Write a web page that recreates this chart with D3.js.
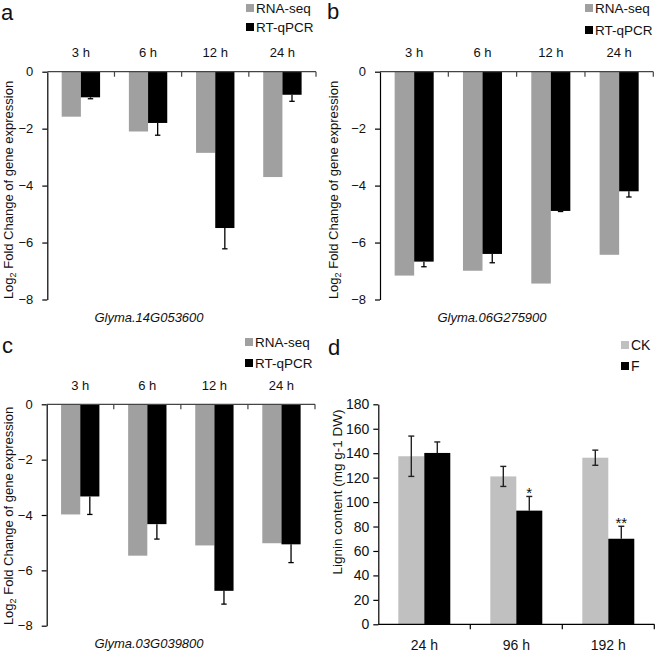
<!DOCTYPE html>
<html><head><meta charset="utf-8">
<script src="https://cdn.jsdelivr.net/npm/d3@7"></script>
<style>body{margin:0;background:#fff}svg{display:block;font-family:"Liberation Sans",Arial,sans-serif}</style>
</head><body>
<svg id="chart" width="655" height="653"></svg>
<script>
const categories = ["3 h", "6 h", "12 h", "24 h"];
const seriesNames = ["RNA-seq", "RT-qPCR"];
const aRNA = [-1.58, -2.10, -2.85, -3.70];
const aQPCR = [-0.90, -1.80, -5.49, -0.81];
const aErr = [0.05, 0.43, 0.73, 0.23];
const bRNA = [-7.16, -6.99, -7.44, -6.43];
const bQPCR = [-6.67, -6.40, -4.89, -4.20];
const bErr = [0.18, 0.31, 0.02, 0.20];
const cRNA = [-3.98, -5.47, -5.10, -5.02];
const cQPCR = [-3.33, -4.33, -6.74, -5.06];
const cErr = [0.65, 0.54, 0.48, 0.66];
const logTicks = [0, -2, -4, -6, -8];
const dCats = ["24 h", "96 h", "192 h"];
const dSeries = ["CK", "F"];
const dCK = [137.5, 121.0, 136.3];
const dCKErr = [16.5, 8.2, 6.2];
const dF = [140.2, 93.0, 70.0];
const dFErr = [9.0, 11.6, 10.2];
const dSig = ["", "*", "**"];
const ligninTicks = [0, 20, 40, 60, 80, 100, 120, 140, 160, 180];

const svg = d3.select("#chart");
const GRAY = "#a0a0a0", BLACK = "#000";

function logPanel(cfg) {
  const g = svg.append("g");
  const x = d3.scaleBand().domain(categories).range([cfg.x0, cfg.x1]).padding(0);
  const sub = d3.scaleBand().domain(seriesNames).range([0, x.bandwidth()]).paddingInner(0).paddingOuter(0.75);
  const y = d3.scaleLinear().domain([0, -8]).range([cfg.yTop, cfg.yBot]);
  const rows = categories.map((c, i) => ({c, rna: cfg.rna[i], q: cfg.q[i], e: cfg.err[i]}));
  g.selectAll("rect.rna").data(rows).join("rect")
    .attr("x", d => x(d.c) + sub("RNA-seq")).attr("width", sub.bandwidth())
    .attr("y", y(0)).attr("height", d => y(d.rna) - y(0)).attr("fill", GRAY);
  g.selectAll("rect.q").data(rows).join("rect")
    .attr("x", d => x(d.c) + sub("RT-qPCR")).attr("width", sub.bandwidth())
    .attr("y", y(0)).attr("height", d => y(d.q) - y(0)).attr("fill", BLACK);
  const eg = g.selectAll("g.err").data(rows).join("g");
  eg.append("line").attr("x1", d => x(d.c) + sub("RT-qPCR") + sub.bandwidth() / 2)
    .attr("x2", d => x(d.c) + sub("RT-qPCR") + sub.bandwidth() / 2)
    .attr("y1", d => y(d.q)).attr("y2", d => y(d.q - d.e)).attr("stroke", "#000").attr("stroke-width", 1.3);
  eg.append("line").attr("x1", d => x(d.c) + sub("RT-qPCR") + sub.bandwidth() / 2 - 2.7)
    .attr("x2", d => x(d.c) + sub("RT-qPCR") + sub.bandwidth() / 2 + 2.7)
    .attr("y1", d => y(d.q - d.e)).attr("y2", d => y(d.q - d.e)).attr("stroke", "#000").attr("stroke-width", 1.3);
  const ya = g.append("g").attr("transform", `translate(${cfg.x0},0)`)
    .call(d3.axisLeft(y).tickValues(logTicks).tickFormat(d3.format("d")).tickSize(5).tickSizeOuter(0).tickPadding(9));
  ya.select(".domain").attr("stroke", "#000").attr("stroke-width", 1.2);
  ya.selectAll(".tick line").attr("stroke", "#000").attr("stroke-width", 1.2);
  ya.selectAll("text").attr("font-size", 13).attr("fill", "#111").attr("font-family", "Liberation Sans, Arial");
  const xa = g.append("g");
  xa.append("line").attr("x1", cfg.x0).attr("x2", cfg.x1).attr("y1", y(0)).attr("y2", y(0)).attr("stroke", "#444").attr("stroke-width", 1.2);
  const bounds = categories.map(c => x(c) + x.bandwidth());
  xa.selectAll("line.tk").data(bounds).join("line").attr("x1", d => d).attr("x2", d => d)
    .attr("y1", y(0)).attr("y2", y(0) + 5).attr("stroke", "#444").attr("stroke-width", 1.2);
  g.selectAll("text.cat").data(categories).join("text")
    .attr("x", d => x(d) + x.bandwidth() / 2).attr("y", cfg.yTop - 14.5)
    .attr("text-anchor", "middle").attr("font-size", 13).attr("fill", "#111").text(d => d);
  const t = g.append("text").attr("transform", `translate(${cfg.titleX},${cfg.titleY}) rotate(-90)`)
    .attr("text-anchor", "middle").attr("font-size", 13).attr("fill", "#111");
  t.append("tspan").text("Log");
  t.append("tspan").attr("font-size", 9).attr("dy", 3).text("2");
  t.append("tspan").attr("dy", -3).text(" Fold Change of gene expression");
  g.append("text").attr("x", cfg.geneX).attr("y", cfg.geneY).attr("text-anchor", "middle")
    .attr("font-size", 13).attr("font-style", "italic").attr("fill", "#111").text(cfg.gene);
  const lg = g.append("g");
  const leg = [{n: "RNA-seq", c: GRAY, y: cfg.legY[0]}, {n: "RT-qPCR", c: BLACK, y: cfg.legY[1]}];
  lg.selectAll("rect").data(leg).join("rect").attr("x", cfg.legX).attr("y", d => d.y - 9).attr("width", 8).attr("height", 8).attr("fill", d => d.c);
  lg.selectAll("text").data(leg).join("text").attr("x", cfg.legX + 10).attr("y", d => d.y)
    .attr("font-size", 13.5).attr("fill", "#111").text(d => d.n);
  g.append("text").attr("x", cfg.letterX).attr("y", cfg.letterY).attr("font-size", 22).attr("fill", "#111").text(cfg.letter);
}

logPanel({x0: 47.3, x1: 316, yTop: 71.7, yBot: 299.5, rna: aRNA, q: aQPCR, err: aErr,
  titleX: 13, titleY: 190, gene: "Glyma.14G053600", geneX: 149, geneY: 322,
  legX: 246, legY: [13, 32], letter: "a", letterX: 1, letterY: 20});
logPanel({x0: 380, x1: 653.3, yTop: 71.7, yBot: 299.5, rna: bRNA, q: bQPCR, err: bErr,
  titleX: 338, titleY: 190, gene: "Glyma.06G275900", geneX: 492, geneY: 322,
  legX: 585, legY: [13, 35], letter: "b", letterX: 327, letterY: 19});
logPanel({x0: 46.7, x1: 315, yTop: 404.3, yBot: 625.7, rna: cRNA, q: cQPCR, err: cErr,
  titleX: 13, titleY: 516, gene: "Glyma.03G039800", geneX: 149, geneY: 648,
  legX: 245, legY: [347, 368], letter: "c", letterX: 2, letterY: 353});

(function () {
  const g = svg.append("g");
  const x0 = 378.3, x1 = 654.3, yTop = 404.3, yBot = 624.3;
  const x = d3.scaleBand().domain(dCats).range([x0, x1]).padding(0);
  const sub = d3.scaleBand().domain(dSeries).range([0, x.bandwidth()]).paddingInner(0).paddingOuter(0.77);
  const y = d3.scaleLinear().domain([0, 180]).range([yBot, yTop]);
  const rows = dCats.map((c, i) => ({c, ck: dCK[i], ce: dCKErr[i], f: dF[i], fe: dFErr[i], s: dSig[i]}));
  g.selectAll("rect.ck").data(rows).join("rect").attr("x", d => x(d.c) + sub("CK")).attr("width", sub.bandwidth())
    .attr("y", d => y(d.ck)).attr("height", d => yBot - y(d.ck)).attr("fill", "#c0c0c0");
  g.selectAll("rect.f").data(rows).join("rect").attr("x", d => x(d.c) + sub("F")).attr("width", sub.bandwidth())
    .attr("y", d => y(d.f)).attr("height", d => yBot - y(d.f)).attr("fill", BLACK);
  const errs = [];
  rows.forEach(d => {
    errs.push({cx: x(d.c) + sub("CK") + sub.bandwidth() / 2, lo: d.ck - d.ce, hi: d.ck + d.ce});
    errs.push({cx: x(d.c) + sub("F") + sub.bandwidth() / 2, lo: d.f, hi: d.f + d.fe});
  });
  const eg = g.selectAll("g.e").data(errs).join("g");
  eg.append("line").attr("x1", d => d.cx).attr("x2", d => d.cx).attr("y1", d => y(d.lo)).attr("y2", d => y(d.hi)).attr("stroke", "#222").attr("stroke-width", 1.4);
  eg.append("line").attr("x1", d => d.cx - 3).attr("x2", d => d.cx + 3).attr("y1", d => y(d.hi)).attr("y2", d => y(d.hi)).attr("stroke", "#222").attr("stroke-width", 1.4);
  eg.filter((d, i) => i % 2 === 0).append("line").attr("x1", d => d.cx - 3).attr("x2", d => d.cx + 3).attr("y1", d => y(d.lo)).attr("y2", d => y(d.lo)).attr("stroke", "#222").attr("stroke-width", 1.4);
  g.selectAll("text.sig").data(rows).join("text").attr("x", d => x(d.c) + sub("F") + sub.bandwidth() / 2)
    .attr("y", d => y(d.f + d.fe) + 2).attr("text-anchor", "middle").attr("font-size", 15).attr("fill", "#111").text(d => d.s);
  const ya = g.append("g").attr("transform", `translate(${x0},0)`)
    .call(d3.axisLeft(y).tickValues(ligninTicks).tickSize(5).tickSizeOuter(0).tickPadding(4));
  ya.select(".domain").attr("stroke", "#000").attr("stroke-width", 1.2);
  ya.selectAll(".tick line").attr("stroke", "#000").attr("stroke-width", 1.2);
  ya.selectAll("text").attr("font-size", 14).attr("fill", "#111").attr("font-family", "Liberation Sans, Arial");
  g.append("line").attr("x1", x0).attr("x2", x1).attr("y1", yBot).attr("y2", yBot).attr("stroke", "#000").attr("stroke-width", 1.2);
  g.selectAll("line.tk").data(dCats.map(c => x(c) + x.bandwidth())).join("line").attr("x1", d => d).attr("x2", d => d)
    .attr("y1", yBot).attr("y2", yBot + 5).attr("stroke", "#000").attr("stroke-width", 1.2);
  g.selectAll("text.cat").data(dCats).join("text").attr("x", d => x(d) + x.bandwidth() / 2).attr("y", 650)
    .attr("text-anchor", "middle").attr("font-size", 14).attr("fill", "#111").text(d => d);
  g.append("text").attr("transform", `translate(342,492) rotate(-90)`).attr("text-anchor", "middle")
    .attr("font-size", 13.5).attr("fill", "#111").text("Lignin content (mg g-1 DW)");
  const leg = [{n: "CK", c: "#c0c0c0", y: 350}, {n: "F", c: BLACK, y: 371}];
  g.selectAll("rect.lg").data(leg).join("rect").attr("x", 621).attr("y", d => d.y - 9).attr("width", 8).attr("height", 8).attr("fill", d => d.c);
  g.selectAll("text.lg").data(leg).join("text").attr("x", 631).attr("y", d => d.y).attr("font-size", 14).attr("fill", "#111").text(d => d.n);
  g.append("text").attr("x", 328).attr("y", 355).attr("font-size", 22).attr("fill", "#111").text("d");
})();
</script>
</body></html>
